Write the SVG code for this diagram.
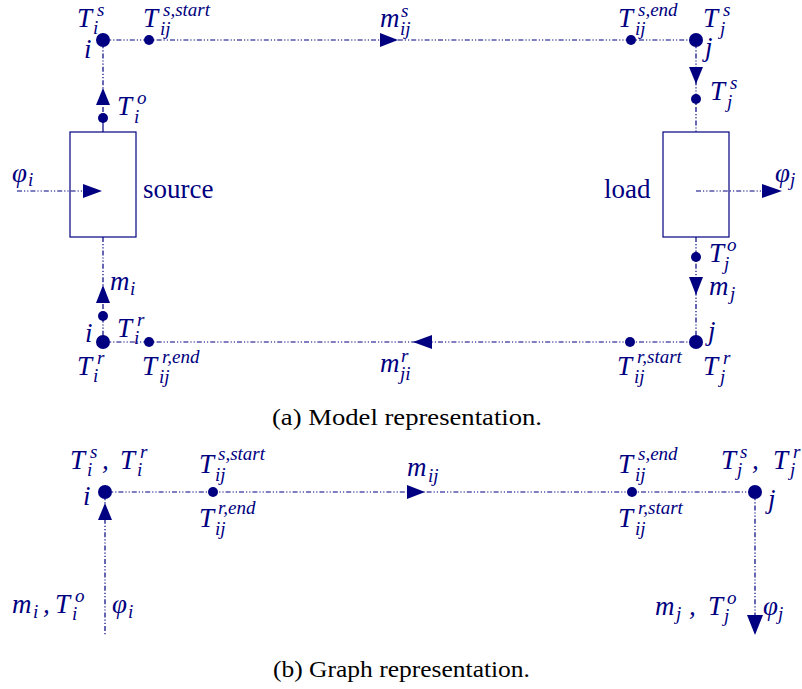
<svg xmlns="http://www.w3.org/2000/svg" width="802" height="689" viewBox="0 0 802 689">
<rect x="0" y="0" width="802" height="689" fill="#ffffff"/>
<g id="connectors" fill="none" stroke="#000080" stroke-width="1.2" stroke-dasharray="5 2 1.2 2 1.2 2">
  <path d="M103 40 H696"/>
  <path d="M103 40 V118"/>
  <path d="M103 118 V132" stroke-dasharray="none"/>
  <path d="M103 237 V342"/>
  <path d="M103 342 H696"/>
  <path d="M696 40 V132"/>
  <path d="M696 237 V342"/>
  <path d="M17 191 H90"/>
  <path d="M696 191 H768"/>
  <path d="M105 492 H755"/>
  <path d="M105 492 V636"/>
  <path d="M755 492 V625"/>
</g>
<g id="arrowheads" fill="#000080" stroke="none">
  <polygon points="380,33 380,47 398,40"/>
  <polygon points="103,88 96,105 110,105"/>
  <polygon points="83,184 83,198 102,191"/>
  <polygon points="689,67 703,67 696,84"/>
  <polygon points="762,184 762,198 782,191"/>
  <polygon points="689,277 703,277 696,295"/>
  <polygon points="103,285 96,303 110,303"/>
  <polygon points="413,342 432,335 432,349"/>
  <polygon points="105,503 98,520 112,520"/>
  <polygon points="425,492 407,485 407,499"/>
  <polygon points="747,615 763,615 755,635"/>
</g>
<g id="source"><rect x="70" y="132" width="66" height="105" fill="none" stroke="#000080" stroke-width="1.2"/><text font-family="Times New Roman" font-size="27" fill="#000080" x="143" y="198">source</text></g>
<g id="load"><rect x="663" y="132" width="66" height="105" fill="none" stroke="#000080" stroke-width="1.2"/><text font-family="Times New Roman" font-size="27" fill="#000080" x="604" y="198">load</text></g>
<g id="nodes" fill="#000080">
  <g id="node-i-s"><circle cx="103" cy="40" r="7"/></g>
  <g id="node-j-s"><circle cx="696" cy="40" r="7"/></g>
  <g id="node-i-r"><circle cx="103" cy="342" r="7"/></g>
  <g id="node-j-r"><circle cx="696" cy="342" r="7"/></g>
  <g id="node-i-g"><circle cx="105" cy="492" r="7"/></g>
  <g id="node-j-g"><circle cx="755" cy="492" r="7"/></g>
  <g id="points">
    <circle cx="149" cy="40" r="5"/>
    <circle cx="631" cy="40" r="5"/>
    <circle cx="103" cy="118" r="5"/>
    <circle cx="696" cy="99" r="5"/>
    <circle cx="103" cy="316" r="5"/>
    <circle cx="696" cy="257" r="5"/>
    <circle cx="149" cy="342" r="5"/>
    <circle cx="630" cy="342" r="5"/>
    <circle cx="213" cy="492" r="5"/>
    <circle cx="632" cy="492" r="5"/>
  </g>
</g>
<g id="labels-model" font-family="Times New Roman" font-style="italic" font-size="27" fill="#000080">
  <text x="77" y="27">T<tspan font-size="19" x="97" y="16">s</tspan><tspan font-size="19" x="93" y="34">i</tspan></text>
  <text x="143" y="27">T<tspan font-size="19" x="163" y="16">s,start</tspan><tspan font-size="19" x="160" y="35">ij</tspan></text>
  <text x="84" y="58">i</text>
  <text x="117" y="115">T<tspan font-size="19" x="137" y="104">o</tspan><tspan font-size="19" x="134" y="123">i</tspan></text>
  <text x="380" y="27">m<tspan font-size="19" x="401" y="17">s</tspan><tspan font-size="19" x="400" y="35">ij</tspan></text>
  <text x="618" y="27">T<tspan font-size="19" x="638" y="16">s,end</tspan><tspan font-size="19" x="635" y="35">ij</tspan></text>
  <text x="703" y="27">T<tspan font-size="19" x="723" y="16">s</tspan><tspan font-size="19" x="720" y="35">j</tspan></text>
  <text x="705" y="56">j</text>
  <text x="710" y="100">T<tspan font-size="19" x="730" y="89">s</tspan><tspan font-size="19" x="727" y="108">j</tspan></text>
  <text x="12" y="182">φ<tspan font-size="19" x="28" y="186">i</tspan></text>
  <text x="775" y="182">φ<tspan font-size="19" x="790" y="186">j</tspan></text>
  <text x="709" y="262">T<tspan font-size="19" x="727" y="251">o</tspan><tspan font-size="19" x="724" y="270">j</tspan></text>
  <text x="709" y="295">m<tspan font-size="19" x="730" y="300">j</tspan></text>
  <text x="110" y="290">m<tspan font-size="19" x="130" y="295">i</tspan></text>
  <text x="117" y="337">T<tspan font-size="19" x="137" y="326">r</tspan><tspan font-size="19" x="134" y="344">i</tspan></text>
  <text x="85" y="342">i</text>
  <text x="708" y="340">j</text>
  <text x="77" y="375">T<tspan font-size="19" x="97" y="364">r</tspan><tspan font-size="19" x="93" y="382">i</tspan></text>
  <text x="142" y="375">T<tspan font-size="19" x="162" y="363">r,end</tspan><tspan font-size="19" x="159" y="383">ij</tspan></text>
  <text x="380" y="372">m<tspan font-size="19" x="401" y="362">r</tspan><tspan font-size="19" x="400" y="380">ji</tspan></text>
  <text x="617" y="375">T<tspan font-size="19" x="637" y="363">r,start</tspan><tspan font-size="19" x="634" y="383">ij</tspan></text>
  <text x="703" y="375">T<tspan font-size="19" x="723" y="364">r</tspan><tspan font-size="19" x="720" y="383">j</tspan></text>
</g>
<text id="caption-a" font-family="Times New Roman" font-size="23" fill="#000000" x="272" y="425" textLength="270" lengthAdjust="spacingAndGlyphs">(a) Model representation.</text>
<g id="labels-graph" font-family="Times New Roman" font-style="italic" font-size="27" fill="#000080">
  <text x="70" y="469">T<tspan font-size="19" x="90" y="458">s</tspan><tspan font-size="19" x="87" y="476">i</tspan><tspan x="102" y="469">,</tspan><tspan x="120" y="469">T</tspan><tspan font-size="19" x="140" y="458">r</tspan><tspan font-size="19" x="137" y="476">i</tspan></text>
  <text x="83" y="505">i</text>
  <text x="199" y="473">T<tspan font-size="19" x="218" y="460">s,start</tspan><tspan font-size="19" x="215" y="481">ij</tspan></text>
  <text x="199" y="527">T<tspan font-size="19" x="218" y="514">r,end</tspan><tspan font-size="19" x="215" y="535">ij</tspan></text>
  <text x="407" y="476">m<tspan font-size="19" x="428" y="482">ij</tspan></text>
  <text x="618" y="473">T<tspan font-size="19" x="638" y="460">s,end</tspan><tspan font-size="19" x="635" y="481">ij</tspan></text>
  <text x="618" y="527">T<tspan font-size="19" x="638" y="514">r,start</tspan><tspan font-size="19" x="635" y="535">ij</tspan></text>
  <text x="721" y="469">T<tspan font-size="19" x="740" y="458">s</tspan><tspan font-size="19" x="737" y="476">j</tspan><tspan x="752" y="469">,</tspan><tspan x="773" y="469">T</tspan><tspan font-size="19" x="793" y="458">r</tspan><tspan font-size="19" x="790" y="476">j</tspan></text>
  <text x="768" y="508">j</text>
  <text x="12" y="613">m<tspan font-size="19" x="33" y="618">i</tspan><tspan x="43" y="613">,</tspan><tspan x="55" y="613">T</tspan><tspan font-size="19" x="75" y="602">o</tspan><tspan font-size="19" x="72" y="620">i</tspan></text>
  <text x="112" y="613">φ<tspan font-size="19" x="128" y="618">i</tspan></text>
  <text x="655" y="615">m<tspan font-size="19" x="676" y="620">j</tspan><tspan x="689" y="615">,</tspan><tspan x="708" y="615">T</tspan><tspan font-size="19" x="727" y="604">o</tspan><tspan font-size="19" x="724" y="622">j</tspan></text>
  <text x="763" y="615">φ<tspan font-size="19" x="778" y="620">j</tspan></text>
</g>
<text id="caption-b" font-family="Times New Roman" font-size="23" fill="#000000" x="273" y="677" textLength="257" lengthAdjust="spacingAndGlyphs">(b) Graph representation.</text>
</svg>
